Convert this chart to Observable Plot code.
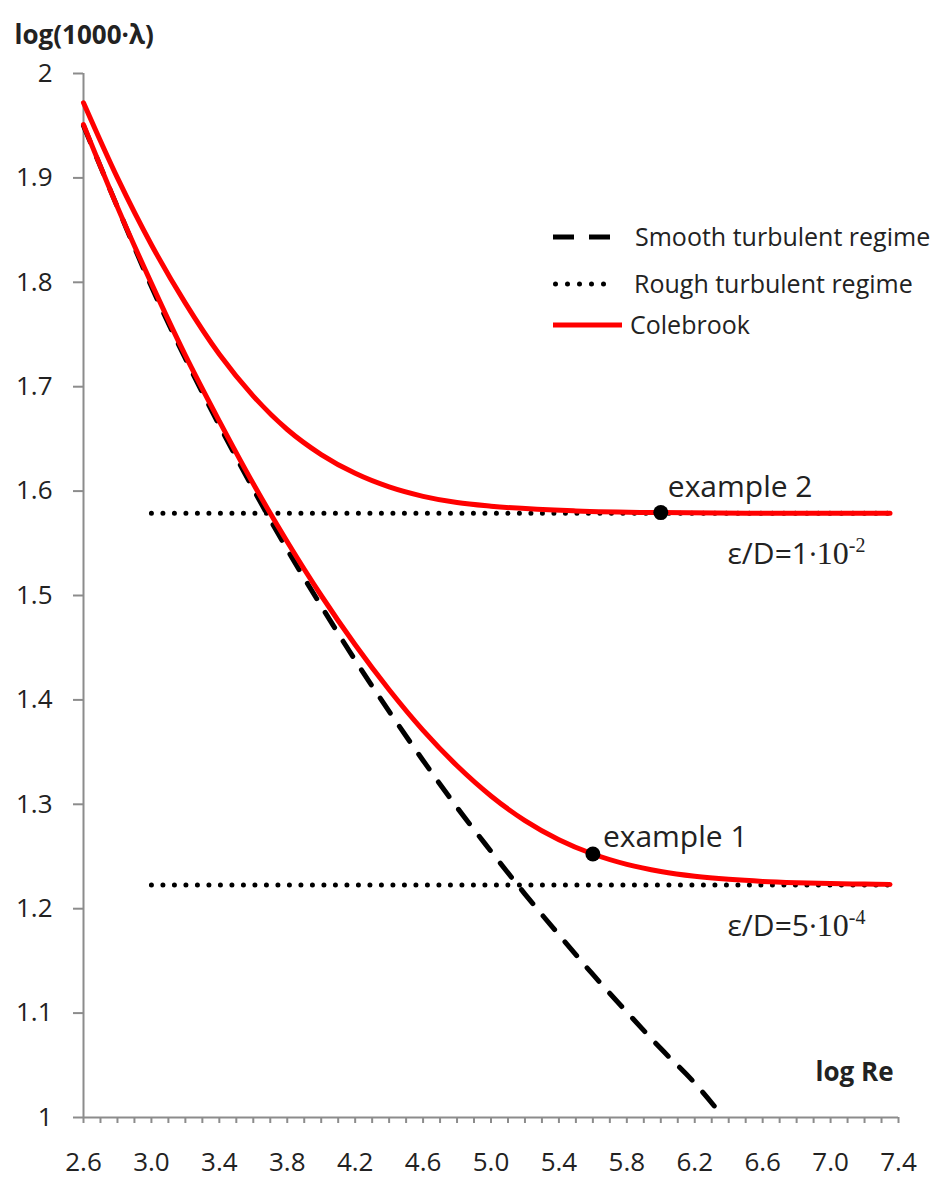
<!DOCTYPE html>
<html>
<head>
<meta charset="utf-8">
<script src="https://cdn.jsdelivr.net/npm/d3@7"></script>
<script src="https://cdn.jsdelivr.net/npm/@observablehq/plot@0.6"></script>
<style>
  body { margin: 0; background: #fff; font-family: "Open Sans", sans-serif; }
  #chart { position: relative; width: 939px; height: 1184px; }
  .legend-row { position: absolute; height: 30px; font-size: 25px; color: #222; white-space: nowrap; }
  .legend-row svg { position: absolute; left: 0; top: 0; }
  .legend-row span { position: absolute; top: 50%; transform: translateY(-53%); }
</style>
</head>
<body>
<div id="chart"></div>
<script>
// Axis ticks
const xTickValues = [2.6, 3.0, 3.4, 3.8, 4.2, 4.6, 5.0, 5.4, 5.8, 6.2, 6.6, 7.0, 7.4];
const xMinorTicks = d3.range(26, 75).map(d => d / 10);
const yTickValues = [1, 1.1, 1.2, 1.3, 1.4, 1.5, 1.6, 1.7, 1.8, 1.9, 2];

// Smooth turbulent regime (dashed)
const smoothLogRe = [2.6, 2.8, 3.0, 3.2, 3.4, 3.6, 3.8, 4.0, 4.2, 4.4, 4.6, 4.8, 5.0, 5.2, 5.4, 5.6, 5.8, 6.0, 6.2, 6.37];
const smoothLogLambda = [1.950, 1.872, 1.796, 1.727, 1.663, 1.602, 1.544, 1.490, 1.438, 1.389, 1.342, 1.297, 1.255, 1.214, 1.175, 1.137, 1.101, 1.066, 1.033, 1.000];

// Rough turbulent regime (dotted), one level per relative roughness
const roughLogRe = [3.0, 7.4];
const roughLevelA = 1.5788; // ε/D = 1·10^-2
const roughLevelB = 1.2227; // ε/D = 5·10^-4

// Colebrook, ε/D = 1·10^-2
const colebrookALogRe = [2.6, 2.8, 3.0, 3.2, 3.4, 3.6, 3.8, 4.0, 4.2, 4.4, 4.6, 4.8, 5.0, 5.5, 6.0, 6.5, 7.0, 7.35];
const colebrookALogLambda = [1.972, 1.900, 1.836, 1.780, 1.731, 1.691, 1.659, 1.635, 1.617, 1.604, 1.595, 1.589, 1.5855, 1.581, 1.5794, 1.5789, 1.5788, 1.5788];

// Colebrook, ε/D = 5·10^-4
const colebrookBLogRe = [2.6, 2.8, 3.0, 3.2, 3.4, 3.6, 3.8, 4.0, 4.2, 4.4, 4.6, 4.8, 5.0, 5.2, 5.4, 5.6, 5.8, 6.0, 6.2, 6.4, 6.6, 6.8, 7.0, 7.2, 7.35];
const colebrookBLogLambda = [1.951, 1.872, 1.799, 1.730, 1.667, 1.607, 1.5515, 1.500, 1.4528, 1.4097, 1.3708, 1.3369, 1.308, 1.2844, 1.2661, 1.2524, 1.2425, 1.2357, 1.2311, 1.2281, 1.2261, 1.2249, 1.2241, 1.2236, 1.2233];

// Highlighted examples
const exampleNames = ["example 2", "example 1"];
const exampleLogRe = [6.0, 5.6];
const exampleLogLambda = [1.5794, 1.2524];

// Roughness labels
const roughnessMantissa = ["1", "5"];
const roughnessExponent = ["-2", "-4"];
const roughnessLevels = [roughLevelA, roughLevelB];

const toRows = (xs, ys) => xs.map((x, i) => ({x, y: ys[i]}));
const smooth = toRows(smoothLogRe, smoothLogLambda);
const roughA = roughLogRe.map(x => ({x, y: roughLevelA}));
const roughB = roughLogRe.map(x => ({x, y: roughLevelB}));
const colebrookA = toRows(colebrookALogRe, colebrookALogLambda);
const colebrookB = toRows(colebrookBLogRe, colebrookBLogLambda);
const examples = exampleNames.map((name, i) => ({name, x: exampleLogRe[i], y: exampleLogLambda[i]}));
const roughLabels = roughnessMantissa.map((m, i) => ({x: 7.4, y: roughnessLevels[i], text: `ε/D=${m}·10${roughnessExponent[i]}`}));

const axisGray = "#8c8c8c";
const ink = "#222";
const red = "#ff0000";

const chart = Plot.plot({
  width: 939,
  height: 1184,
  marginLeft: 83,
  marginRight: 41,
  marginTop: 73,
  marginBottom: 67,
  x: {domain: [2.6, 7.4], label: null},
  y: {domain: [1, 2], label: null},
  style: {fontFamily: '"Open Sans", sans-serif', fontSize: "26px", color: ink, background: "#fff"},
  marks: [
    // axes
    Plot.axisX({ticks: xMinorTicks, tickSize: 6, tickFormat: () => "", stroke: axisGray, strokeWidth: 2}),
    Plot.axisX({ticks: xTickValues, tickSize: 0, tickPadding: 35, tickFormat: d3.format(".1f"), fontSize: 26, fill: ink}),
    Plot.axisY({ticks: yTickValues, tickSize: 10, tickPadding: 21, tickFormat: d => String(d), fontSize: 26, stroke: axisGray, strokeWidth: 2, fill: ink}),
    Plot.ruleY([1], {stroke: axisGray, strokeWidth: 2}),
    Plot.ruleX([2.6], {stroke: axisGray, strokeWidth: 2}),

    // axis titles
    Plot.text(["log(1000·λ)"], {text: d => d, frameAnchor: "top-left", dx: -69, dy: -48, textAnchor: "start", fontWeight: "bold", fontSize: 26, fill: ink}),
    Plot.text(["log Re"], {text: d => d, frameAnchor: "bottom-right", dx: -5, dy: -37, textAnchor: "end", fontWeight: "bold", fontSize: 26, fill: ink}),

    // rough turbulent asymptotes
    Plot.line(roughA, {x: "x", y: "y", stroke: "#000", strokeWidth: 5, strokeDasharray: "0,11.5", strokeLinecap: "round"}),
    Plot.line(roughB, {x: "x", y: "y", stroke: "#000", strokeWidth: 5, strokeDasharray: "0,11.5", strokeLinecap: "round"}),

    // smooth turbulent regime
    Plot.line(smooth, {x: "x", y: "y", curve: "monotone-x", stroke: "#000", strokeWidth: 5, strokeDasharray: "18,16"}),

    // Colebrook curves
    Plot.line(colebrookA, {x: "x", y: "y", curve: "monotone-x", stroke: red, strokeWidth: 5}),
    Plot.line(colebrookB, {x: "x", y: "y", curve: "monotone-x", stroke: red, strokeWidth: 5}),

    // examples
    Plot.dot(examples, {x: "x", y: "y", r: 7.5, fill: "#000"}),
    Plot.text(examples, {filter: d => d.name === "example 2", x: "x", y: "y", text: "name", textAnchor: "start", dx: 7, dy: -25, fontSize: 30, fill: ink}),
    Plot.text(examples, {filter: d => d.name === "example 1", x: "x", y: "y", text: "name", textAnchor: "start", dx: 10, dy: -17, fontSize: 30, fill: ink}),

    // roughness labels
    Plot.text(roughLabels, {x: "x", y: "y", text: "text", textAnchor: "end", dx: -33, dy: 41, fontSize: 30, fill: ink, className: "roughness-label"})
  ]
});

// Typeset "10" and its exponent the way the roughness labels are written
d3.select(chart).selectAll(".roughness-label text").each(function () {
  const full = this.textContent;
  const m = full.match(/^(.*·)(10)(.*)$/);
  if (!m) return;
  const t = d3.select(this).text(null);
  t.append("tspan").text(m[1]);
  t.append("tspan").attr("font-family", '"Liberation Serif", serif').attr("font-size", "32px").text(m[2]);
  t.append("tspan").attr("font-family", '"Liberation Serif", serif').attr("font-size", "20px").attr("dy", "-0.6em").text(m[3]);
});

const host = document.getElementById("chart");
host.appendChild(chart);

// Legend
const legendRows = [
  {label: "Smooth turbulent regime", top: 237, textLeft: 82, draw: s => s.append("line").attr("x1", 0).attr("x2", 57).attr("y1", 15).attr("y2", 15).attr("stroke", "#000").attr("stroke-width", 5).attr("stroke-dasharray", "21,15")},
  {label: "Rough turbulent regime", top: 284, textLeft: 81, draw: s => s.append("line").attr("x1", 2.5).attr("x2", 62.5).attr("y1", 15).attr("y2", 15).attr("stroke", "#000").attr("stroke-width", 5).attr("stroke-linecap", "round").attr("stroke-dasharray", "0,12")},
  {label: "Colebrook", top: 325, textLeft: 77, draw: s => s.append("line").attr("x1", 0).attr("x2", 69).attr("y1", 15).attr("y2", 15).attr("stroke", red).attr("stroke-width", 5)}
];
for (const row of legendRows) {
  const div = d3.select(host).append("div").attr("class", "legend-row")
    .style("left", "553px").style("top", (row.top - 15) + "px").style("width", "380px");
  const s = div.append("svg").attr("width", 75).attr("height", 30);
  row.draw(s);
  div.append("span").style("left", row.textLeft + "px").text(row.label);
}
</script>
</body>
</html>
